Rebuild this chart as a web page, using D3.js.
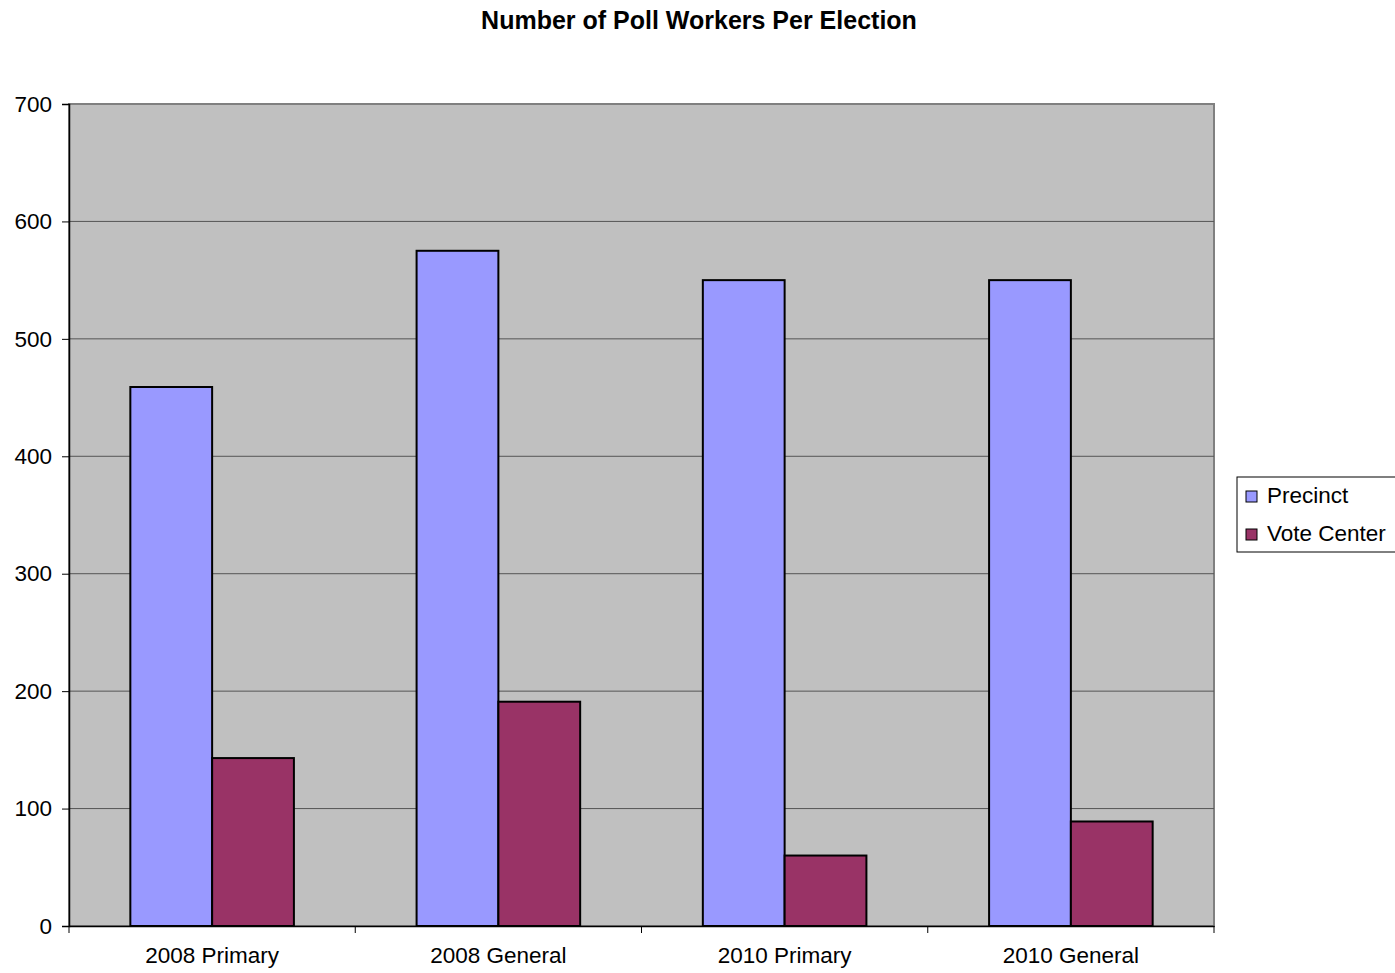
<!DOCTYPE html>
<html>
<head>
<meta charset="utf-8">
<script src="https://cdn.jsdelivr.net/npm/d3@7"></script>
<style>
	body { margin: 0; background: #fff; }
	svg { display: block; font-family: "Liberation Sans", Arial, sans-serif; }
</style>
</head>
<body>
<svg id="chart" width="1395" height="973"></svg>
<script>
const categories = ["2008 Primary", "2008 General", "2010 Primary", "2010 General"];
const seriesNames = ["Precinct", "Vote Center"];
const precinct = [459, 575, 550, 550];
const voteCenter = [143, 191, 60, 89];
const yTicks = [0, 100, 200, 300, 400, 500, 600, 700];
const colors = ["#9999FF", "#993366"];

const svg = d3.select("#chart");
const plot = {left: 69, right: 1214, top: 104, bottom: 926};
const labelFont = "Liberation Sans, Arial, sans-serif";

// title
svg.append("text")
.attr("x", 699)
.attr("y", 29)
.attr("text-anchor", "middle")
.attr("font-size", 25)
.attr("font-weight", "bold")
.text("Number of Poll Workers Per Election");

const x = d3.scaleBand()
.domain(categories)
.range([plot.left, plot.right]);

// gap width 150% of a bar, as in the spreadsheet default
const barW = x.bandwidth() / 3.5;
const xs = d3.scaleBand()
.domain(seriesNames)
.range([barW * 0.75, barW * 2.75]);

const y = d3.scaleLinear()
.domain([0, 700])
.range([plot.bottom, plot.top]);

svg.append("rect")
.attr("x", plot.left)
.attr("y", plot.top)
.attr("width", plot.right - plot.left)
.attr("height", plot.bottom - plot.top)
.attr("fill", "#C0C0C0")
.attr("stroke", "#808080")
.attr("stroke-width", 2);

// gridlines
svg.append("g")
.selectAll("line")
.data(yTicks.slice(1, -1))
.enter()
.append("line")
.attr("x1", plot.left)
.attr("x2", plot.right)
.attr("y1", (d) => y(d))
.attr("y2", (d) => y(d))
.attr("stroke", "#555")
.attr("stroke-width", 1);

const rows = categories.map((c, i) => ({category: c, values: [precinct[i], voteCenter[i]]}));

const group = svg.append("g")
.selectAll(".group")
.data(rows)
.enter()
.append("g")
.attr("class", "group")
.attr("transform", (d) => `translate(${x(d.category)}, 0)`);

group.selectAll("rect")
.data((d) => d.values.map((v, j) => ({name: seriesNames[j], value: v, j})))
.enter()
.append("rect")
.attr("x", (d) => xs(d.name))
.attr("width", xs.bandwidth())
.attr("y", (d) => y(d.value))
.attr("height", (d) => y(0) - y(d.value))
.attr("fill", (d) => colors[d.j])
.attr("stroke", "#000")
.attr("stroke-width", 2);

// y axis
const yAxis = svg.append("g")
.attr("transform", `translate(${plot.left}, 0)`)
.call(d3.axisLeft(y).tickValues(yTicks).tickSize(7).tickPadding(10));
yAxis.select(".domain").attr("stroke", "#000").attr("stroke-width", 1.5);
yAxis.selectAll(".tick line").attr("stroke", "#000");
yAxis.selectAll(".tick text").attr("font-size", 22.5).attr("fill", "#000")
.attr("font-family", labelFont);

// x axis
const xAxis = svg.append("g")
.attr("transform", `translate(0, ${plot.bottom})`)
.call(d3.axisBottom(x).tickSize(0).tickPadding(21));
xAxis.select(".domain").attr("stroke", "#000").attr("stroke-width", 1.5);
xAxis.selectAll(".tick text").attr("font-size", 22.5).attr("fill", "#000")
.attr("font-family", labelFont);

// category separator ticks
svg.append("g")
.selectAll("line")
.data(d3.range(categories.length + 1))
.enter()
.append("line")
.attr("x1", (i) => plot.left + i * x.step())
.attr("x2", (i) => plot.left + i * x.step())
.attr("y1", plot.bottom)
.attr("y2", plot.bottom + 7)
.attr("stroke", "#000");

// legend
const legend = svg.append("g").attr("transform", "translate(1237, 477)");
legend.append("rect")
.attr("width", 165)
.attr("height", 75)
.attr("fill", "#fff")
.attr("stroke", "#000")
.attr("stroke-width", 1);

const item = legend.selectAll(".item")
.data(seriesNames)
.enter()
.append("g")
.attr("class", "item")
.attr("transform", (d, i) => `translate(9, ${14 + i * 38})`);

item.append("rect")
.attr("width", 11)
.attr("height", 11)
.attr("fill", (d, i) => colors[i])
.attr("stroke", "#000");

item.append("text")
.attr("x", 21)
.attr("y", 12)
.attr("font-size", 22.5)
.text((d) => d);
</script>
</body>
</html>
